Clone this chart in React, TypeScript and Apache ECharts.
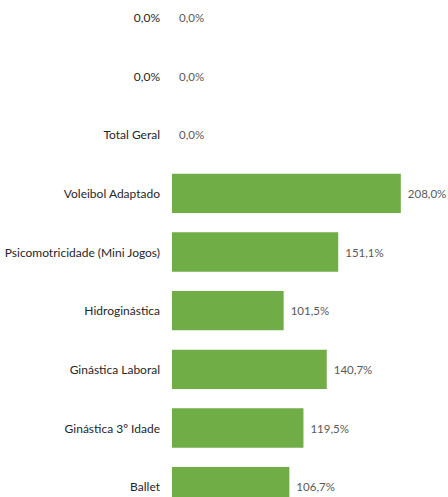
import React, { useEffect, useRef } from "react";
import * as echarts from "echarts";

const categories = [
  "0,0%",
  "0,0%",
  "Total Geral",
  "Voleibol Adaptado",
  "Psicomotricidade (Mini Jogos)",
  "Hidroginástica",
  "Ginástica Laboral",
  "Ginástica 3º Idade",
  "Ballet",
];
const values = [0, 0, 0, 208.0, 151.1, 101.5, 140.7, 119.5, 106.7];

const fmt = (v: number) => v.toFixed(1).replace(".", ",") + "%";

export default function App() {
  const ref = useRef<HTMLDivElement>(null);
  useEffect(() => {
    if (!ref.current) return;
    const chart = echarts.init(ref.current, undefined, { renderer: "svg" });
    chart.setOption({
      animation: false,
      grid: { left: 172, right: 12, top: 0, bottom: 0, containLabel: false },
      xAxis: {
        type: "value",
        min: 0,
        max: 240,
        axisLine: { show: false },
        axisTick: { show: false },
        axisLabel: { show: false },
        splitLine: { show: false },
      },
      yAxis: {
        type: "category",
        inverse: true,
        data: categories,
        axisLine: { show: false },
        axisTick: { show: false },
        axisLabel: {
          margin: 12,
          color: "#262626",
          fontFamily: "Lato",
          fontSize: 12,
        },
      },
      series: [
        {
          type: "bar",
          data: values,
          barCategoryGap: "33%",
          itemStyle: { color: "#70AD47" },
          label: {
            show: true,
            position: "right",
            distance: 7,
            formatter: (p: any) => fmt(p.value),
            color: "#595959",
            fontFamily: "Lato",
            fontSize: 11.5,
          },
        },
      ],
    });
    return () => chart.dispose();
  }, []);
  return (
    <div style={{ position: "fixed", left: 0, top: 0, width: 448, height: 497, overflow: "hidden", background: "#fff" }}>
      <div
        ref={ref}
        style={{ position: "absolute", left: 0, top: -12, width: 448, height: 528 }}
      />
    </div>
  );
}
